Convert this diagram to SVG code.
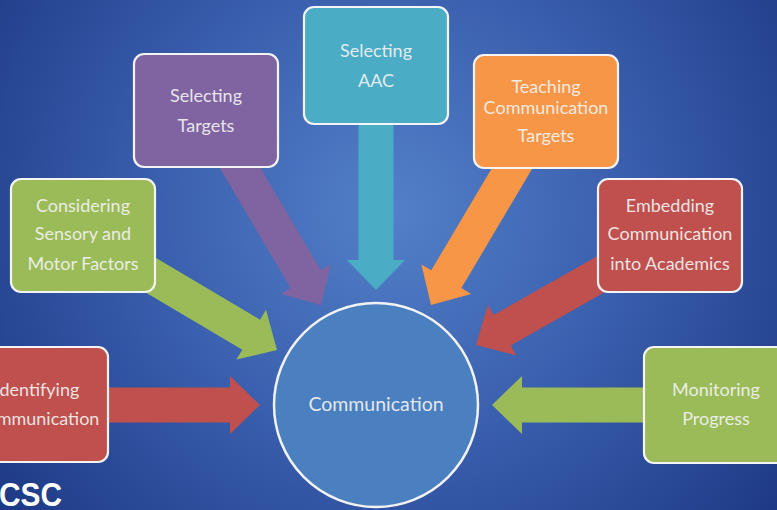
<svg xmlns="http://www.w3.org/2000/svg" width="777" height="510" viewBox="0 0 777 510">
<defs>
<radialGradient id="bg" cx="390" cy="210" r="520" gradientUnits="userSpaceOnUse">
<stop offset="0" stop-color="#5380c8"/>
<stop offset="0.45" stop-color="#3a5fae"/>
<stop offset="1" stop-color="#1a3580"/>
</radialGradient>
<style>
.box{stroke:#f4f4f4;stroke-width:2.2}
.lbl{font-family:Lato,"Open Sans",sans-serif;font-size:18px;fill:#f3f3f3;text-anchor:middle;fill-opacity:0.92}
.red{fill:#c0504d}.green{fill:#9bbb59}.purple{fill:#8064a2}.teal{fill:#4bacc6}.orange{fill:#f79646}
</style>
</defs>
<rect width="777" height="510" fill="url(#bg)"/>
<g id="connectors">
<polygon class="red" points="60,387.5 230,387.5 230,376 260,405 230,434 230,422.5 60,422.5"/>
<polygon class="green" points="700,387.5 522,387.5 522,376 492,405 522,434 522,422.5 700,422.5"/>
<polygon class="teal" points="358.5,70 358.5,260 347,260 376,290 405,260 393.5,260 393.5,70"/>
<polygon class="purple" points="190.9,118.9 290.7,288.1 280.8,293.9 321,305 330.8,264.5 320.9,270.3 221.1,101.1"/>
<polygon class="orange" points="530.9,102.1 431.3,270.3 421.4,264.4 431,305 471.2,294 461.4,288.1 561.1,119.9"/>
<polygon class="green" points="74.1,250.1 242.3,349.7 236.4,359.6 277,350 266,309.8 260.1,319.7 91.9,219.9"/>
<polygon class="red" points="661.4,219.8 493.5,315 487.8,305 476,345 516.4,355.4 510.7,345.5 678.6,250.2"/>
</g>
<g id="n-identifying">
<rect class="box red" x="-34" y="347" width="142" height="115" rx="10"/>
<text class="lbl" x="37" y="396">Identifying</text>
<text class="lbl" x="37" y="425">Communication</text>
</g>
<g id="n-considering">
<rect class="box green" x="11" y="179" width="144" height="113" rx="10"/>
<text class="lbl" x="83" y="212">Considering</text>
<text class="lbl" x="83" y="240">Sensory and</text>
<text class="lbl" x="83" y="270">Motor Factors</text>
</g>
<g id="n-selecting-targets">
<rect class="box purple" x="134" y="54" width="144" height="113" rx="10"/>
<text class="lbl" x="206" y="102">Selecting</text>
<text class="lbl" x="206" y="132">Targets</text>
</g>
<g id="n-selecting-aac">
<rect class="box teal" x="304" y="7" width="144" height="117" rx="10"/>
<text class="lbl" x="376" y="57">Selecting</text>
<text class="lbl" x="376" y="87">AAC</text>
</g>
<g id="n-teaching">
<rect class="box orange" x="474" y="55" width="144" height="113" rx="10"/>
<text class="lbl" x="546" y="93">Teaching</text>
<text class="lbl" x="546" y="114">Communication</text>
<text class="lbl" x="546" y="142">Targets</text>
</g>
<g id="n-embedding">
<rect class="box red" x="598" y="179" width="144" height="113" rx="10"/>
<text class="lbl" x="670" y="212">Embedding</text>
<text class="lbl" x="670" y="240">Communication</text>
<text class="lbl" x="670" y="270">into Academics</text>
</g>
<g id="n-monitoring">
<rect class="box green" x="644" y="347" width="144" height="116" rx="10"/>
<text class="lbl" x="716" y="396">Monitoring</text>
<text class="lbl" x="716" y="425">Progress</text>
</g>
<g id="n-communication">
<circle cx="376" cy="405" r="102" fill="#4b80c0" stroke="#f2f2f2" stroke-width="2.5"/>
<text class="lbl" x="376" y="411" style="font-size:19.5px">Communication</text>
</g>
<text x="-1" y="506" font-family="'Liberation Sans',Arial,sans-serif" font-weight="bold" font-size="33" fill="#ffffff" textLength="63" lengthAdjust="spacingAndGlyphs">CSC</text>
</svg>
